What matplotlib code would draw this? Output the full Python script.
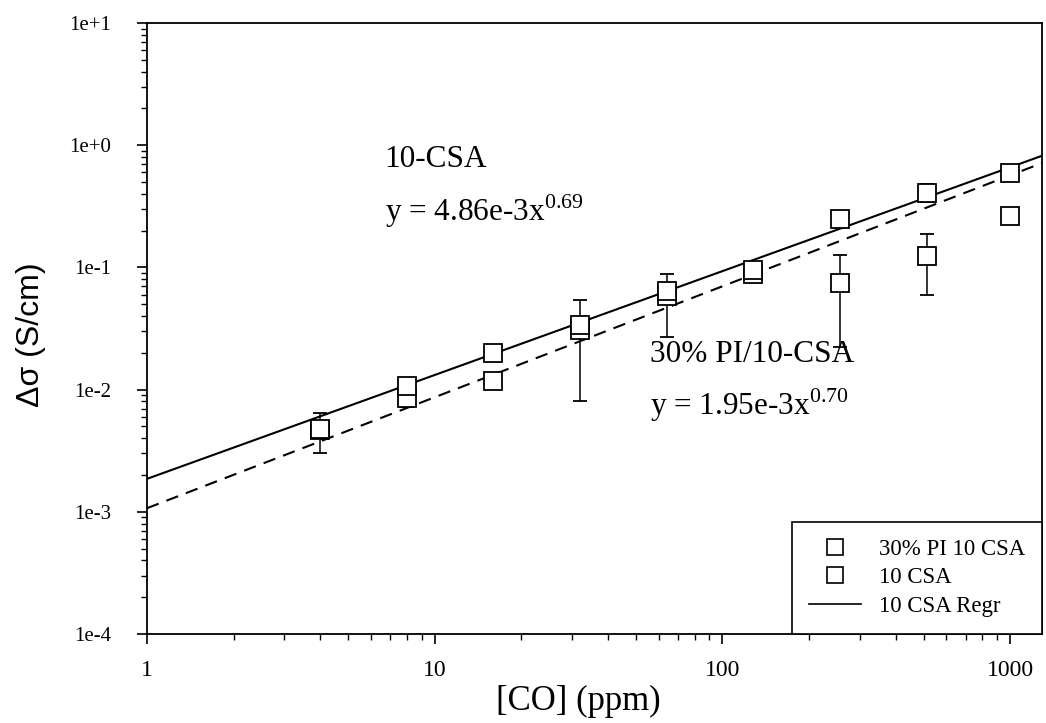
"""Conductivity change vs CO concentration for 10-CSA and 30% PI/10-CSA films."""

import matplotlib.pyplot as plt
import numpy as np
from matplotlib.lines import Line2D
from matplotlib.ticker import FuncFormatter, LogLocator, NullFormatter

plt.rcParams["font.family"] = ["Liberation Serif", "DejaVu Serif"]
plt.rcParams["mathtext.fontset"] = "custom"
plt.rcParams["mathtext.rm"] = "Liberation Serif"

# CO concentration steps (ppm)
co_ppm = [4, 8, 16, 32, 64, 128, 256, 512, 1000]

# 30% PI / 10-CSA blend: delta sigma (S/cm) and error
pi_sigma = [4.7e-3, 8.5e-3, 0.0118, 0.031, 0.058, 0.088, 0.0745, 0.124, 0.264]
pi_err = [1.7e-3, 1.3e-3, 1e-4, 0.023, 0.031, 0.006, 0.052, 0.064, 1e-4]

# neat 10-CSA film
csa_sigma = [4.8e-3, 0.0108, 0.0200, 0.034, 0.064, 0.096, 0.25, 0.41, 0.59]
csa_err = [0.5e-3, 0.6e-3, 1e-4, 0.003, 0.006, 0.008, 0.03, 0.07, 0.05]

# power-law regression lines (prefactor, exponent)
csa_fit = (1.86e-3, 0.85)
pi_fit = (1.07e-3, 0.908)

fig = plt.figure(figsize=(10.46, 7.23), dpi=100)
ax = fig.add_axes([0.1405, 0.1231, 0.8557, 0.8451])
ax.set_xscale("log")
ax.set_yscale("log")
x_max = 1290
ax.set_xlim(1, x_max)
ax.set_ylim(1e-4, 10)

xs = np.logspace(0, np.log10(x_max), 200)
ax.plot(xs, csa_fit[0] * xs ** csa_fit[1], color="black", lw=1.5, zorder=2)
ax.plot(xs, pi_fit[0] * xs ** pi_fit[1], color="black", lw=1.5,
        ls=(0, (6, 4)), zorder=2)

marker_kw = dict(fmt="s", ms=12.5, mfc="white", mec="black", mew=1.3,
                 ecolor="black", elinewidth=1.1, capsize=4.7, capthick=1.1,
                 zorder=3)
ax.errorbar(co_ppm, pi_sigma, yerr=pi_err, **marker_kw)
ax.errorbar(co_ppm, csa_sigma, yerr=csa_err, **marker_kw)

# equation annotations
note_size = 22.5
ax.text(6.7, 0.76, "10-CSA", fontsize=note_size, va="center", ha="left")
ax.text(6.7, 0.29, r"y = 4.86e-3x$^{\mathrm{0.69}}$", fontsize=note_size,
        va="center", ha="left")
ax.text(56, 0.0192, "30% PI/10-CSA", fontsize=note_size, va="center", ha="left")
ax.text(56, 7.4e-3, r"y = 1.95e-3x$^{\mathrm{0.70}}$", fontsize=note_size,
        va="center", ha="left")

# axes styling
for side in ("top", "right", "left", "bottom"):
    ax.spines[side].set_linewidth(1.3)
ax.yaxis.set_major_locator(LogLocator(base=10, numticks=10))
ax.yaxis.set_minor_locator(LogLocator(base=10, subs=np.arange(2, 10), numticks=10))
ax.yaxis.set_minor_formatter(NullFormatter())
ax.yaxis.set_major_formatter(FuncFormatter(
    lambda v, _: "1e%+d" % int(round(np.log10(v)))))
ax.xaxis.set_major_locator(LogLocator(base=10, numticks=10))
ax.xaxis.set_minor_locator(LogLocator(base=10, subs=np.arange(2, 10), numticks=10))
ax.xaxis.set_minor_formatter(NullFormatter())
ax.xaxis.set_major_formatter(FuncFormatter(lambda v, _: "%d" % round(v)))
ax.tick_params(which="major", direction="out", length=7, width=1.2)
ax.tick_params(which="minor", direction="out", length=4, width=1.0)
ax.tick_params(axis="x", which="major", labelsize=17, pad=12)
ax.tick_params(axis="y", which="major", labelsize=15, pad=19)

ax.set_xlabel("[CO] (ppm)", fontsize=25)
ax.xaxis.set_label_coords(0.4816, -0.084)
ax.set_ylabel("Δσ (S/cm)", fontsize=23, family=["Liberation Sans", "DejaVu Sans"])
ax.yaxis.set_label_coords(-0.113, 0.49)

handles = [
    Line2D([], [], ls="none", marker="s", ms=11, mfc="white", mec="black", mew=1.2),
    Line2D([], [], ls="none", marker="s", ms=11, mfc="white", mec="black", mew=1.2),
    Line2D([], [], color="black", lw=1.2),
]
leg = ax.legend(handles, ["30% PI 10 CSA", "10 CSA", "10 CSA Regr"],
                loc="lower right", borderaxespad=0, fontsize=16.5,
                fancybox=False, framealpha=1, edgecolor="black",
                handlelength=2.3, labelspacing=0.32, borderpad=0.75,
                handletextpad=0.75)
leg.get_frame().set_linewidth(1.2)

fig.savefig("out.png", dpi=100)
